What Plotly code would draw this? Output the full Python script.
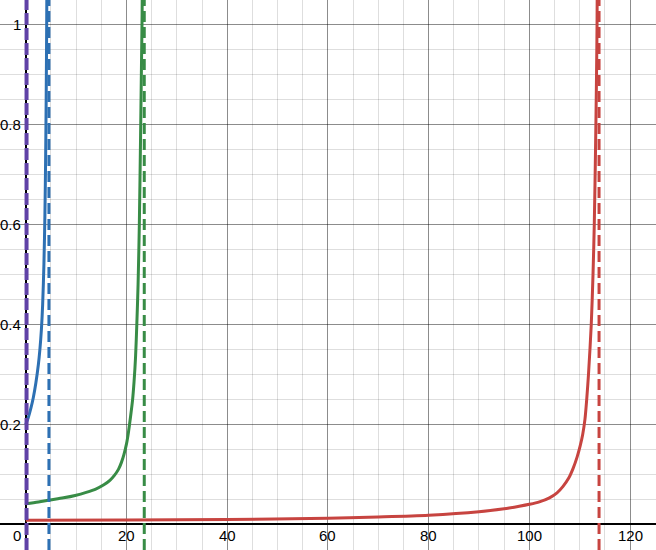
import plotly.graph_objects as go

# ---- data ----
blue_x = [0, 0.5, 1.0, 1.5, 2.0, 2.5, 2.8, 3.1, 3.35, 3.6, 3.8, 3.95, 4.05, 4.15, 4.3]
blue_y = [0.2, 0.214, 0.232, 0.254, 0.283, 0.32, 0.35, 0.39, 0.44, 0.52, 0.62, 0.74, 0.85, 1.0, 1.3]

green_x = [0, 2.5, 4.8, 7.5, 9.8, 12, 14, 15.5, 16.7, 17.6, 18.4, 19.0, 19.5, 20.0, 20.4, 20.8,
           21.2, 21.5, 21.8, 22.05, 22.3, 22.55, 22.8, 22.95, 23.1, 23.3]
green_y = [0.041, 0.0445, 0.0485, 0.053, 0.0578, 0.064, 0.071, 0.079, 0.088, 0.098, 0.11, 0.124,
           0.14, 0.161, 0.185, 0.215, 0.248, 0.285, 0.335, 0.40, 0.48, 0.60, 0.78, 0.90, 1.02, 1.3]

red_x = [0, 20, 40, 60, 70, 80, 90, 95, 96, 98, 100, 102, 104, 105.5, 106.7, 107.8, 108.7, 109.5,
         110.1, 110.6, 111.05, 111.4, 111.75, 112.3, 112.65, 112.9, 113.15, 113.35, 113.45, 113.6]
red_y = [0.008, 0.0085, 0.0095, 0.012, 0.0145, 0.018, 0.025, 0.031, 0.0325, 0.036, 0.040, 0.045,
         0.053, 0.063, 0.076, 0.092, 0.112, 0.135, 0.157, 0.18, 0.21, 0.25, 0.30, 0.40, 0.50, 0.60,
         0.75, 0.90, 1.0, 1.3]

asymptote_x = [0.15, 4.6, 23.53, 113.85]
asymptote_colors = ["#6042a6", "#2d70b3", "#388c46", "#c74440"]
asymptote_widths = [4, 3, 3, 3]
asymptote_dashes = ["12px,3px", "11px,5px", "11px,5px", "11px,5px"]

x_ticks = [20, 40, 60, 80, 100, 120]
x_tick_labels = ["20", "40", "60", "80", "100", "120"]
y_ticks = [0.2, 0.4, 0.6, 0.8, 1.0]
y_tick_labels = ["0.2", "0.4", "0.6", "0.8", "1"]

x_range = [-5.12, 125.16]
y_range = [-0.0515, 1.050]

fig = go.Figure()
for xs, ys, col in [(blue_x, blue_y, "#2d70b3"), (green_x, green_y, "#388c46"), (red_x, red_y, "#c74440")]:
    fig.add_trace(go.Scatter(x=xs, y=ys, mode="lines", line=dict(color=col, width=3, shape="spline", smoothing=0.8),
                             hoverinfo="skip", showlegend=False))

shapes = []
for ax, col, w, d in zip(asymptote_x, asymptote_colors, asymptote_widths, asymptote_dashes):
    shapes.append(dict(type="line", xref="x", yref="paper", x0=ax, x1=ax, y0=0, y1=1,
                       line=dict(color=col, width=w, dash=d), layer="above"))

annotations = []
lab_font = dict(family="Arial, Liberation Sans, sans-serif", size=15, color="#000")
for t, s in zip(x_ticks, x_tick_labels):
    annotations.append(dict(x=t, y=0, xref="x", yref="y", text=s, showarrow=False,
                            xanchor="center", yanchor="top", yshift=-1, font=lab_font))
for t, s in zip(y_ticks, y_tick_labels):
    annotations.append(dict(x=0, y=t, xref="x", yref="y", text=s, showarrow=False,
                            xanchor="right", yanchor="middle", xshift=-3, font=lab_font))
annotations.append(dict(x=0, y=0, xref="x", yref="y", text="0", showarrow=False,
                        xanchor="right", yanchor="top", xshift=-3, yshift=-1, font=lab_font))

fig.update_layout(
    width=656, height=550,
    margin=dict(l=0, r=0, t=0, b=0),
    plot_bgcolor="white", paper_bgcolor="white",
    shapes=shapes, annotations=annotations,
)
fig.update_xaxes(range=x_range, dtick=20, tick0=0, showticklabels=False, ticks="",
                 showgrid=True, gridcolor="rgba(0,0,0,0.45)", gridwidth=1,
                 minor=dict(dtick=5, tick0=0, showgrid=True, gridcolor="rgba(0,0,0,0.13)", gridwidth=1),
                 zeroline=True, zerolinecolor="black", zerolinewidth=1.5, showline=False)
fig.update_yaxes(range=y_range, dtick=0.2, tick0=0, showticklabels=False, ticks="",
                 showgrid=True, gridcolor="rgba(0,0,0,0.45)", gridwidth=1,
                 minor=dict(dtick=0.05, tick0=0, showgrid=True, gridcolor="rgba(0,0,0,0.13)", gridwidth=1),
                 zeroline=True, zerolinecolor="black", zerolinewidth=1.5, showline=False)

fig.write_html("out.html", config={"displayModeBar": False},
               post_script="document.body.style.margin='0';")
